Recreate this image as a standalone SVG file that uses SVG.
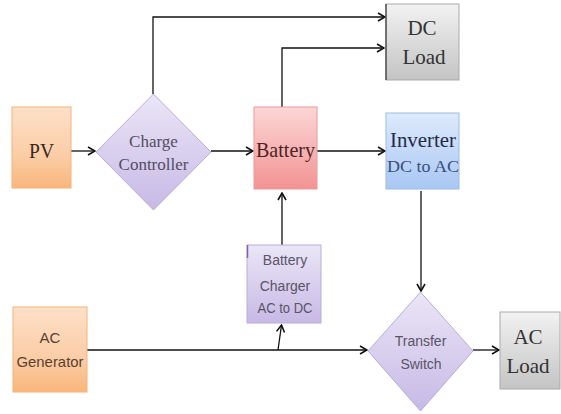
<svg xmlns="http://www.w3.org/2000/svg" width="561" height="414" viewBox="0 0 561 414">
<defs>
<linearGradient id="gOrange" x1="0" y1="0" x2="0" y2="1"><stop offset="0" stop-color="#fde0c8"/><stop offset="0.6" stop-color="#fbcda6"/><stop offset="1" stop-color="#f9b67c"/></linearGradient>
<linearGradient id="gLav" x1="0" y1="0" x2="0" y2="1"><stop offset="0" stop-color="#ebe6f6"/><stop offset="1" stop-color="#c7b9e6"/></linearGradient>
<linearGradient id="gPink" x1="0" y1="0" x2="0" y2="1"><stop offset="0" stop-color="#fcd6d6"/><stop offset="1" stop-color="#f39393"/></linearGradient>
<linearGradient id="gBlue" x1="0" y1="0" x2="0" y2="1"><stop offset="0" stop-color="#dfeafc"/><stop offset="1" stop-color="#a8c7f4"/></linearGradient>
<linearGradient id="gGray" x1="0" y1="0" x2="0" y2="1"><stop offset="0" stop-color="#f2f2f2"/><stop offset="1" stop-color="#c4c4c4"/></linearGradient>
<marker id="arr" viewBox="0 0 10 10" refX="9" refY="5" markerWidth="10" markerHeight="10" markerUnits="userSpaceOnUse" orient="auto">
<path d="M2,1 L9,5 L2,9" fill="none" stroke="#111" stroke-width="1.6"/>
</marker>
</defs>
<style>
.serif{font-family:"Liberation Serif","Times New Roman",serif;text-anchor:middle}
.sans{font-family:"Liberation Sans",Arial,sans-serif;text-anchor:middle}
.ln{fill:none;stroke:#111;stroke-width:1.3}
</style>
<rect width="561" height="414" fill="#ffffff"/>
<g id="connectors">
<path class="ln" d="M71,151 L95,151" marker-end="url(#arr)"/>
<path class="ln" d="M153,94 L153,17 L385,17" marker-end="url(#arr)"/>
<path class="ln" d="M211,151 L253,151" marker-end="url(#arr)"/>
<path class="ln" d="M282,107 L282,48 L384,48" marker-end="url(#arr)"/>
<path class="ln" d="M317,151 L385,151" marker-end="url(#arr)"/>
<path class="ln" d="M421,191 L421,291" marker-end="url(#arr)"/>
<path class="ln" d="M87,350 L367,350" marker-end="url(#arr)"/>
<path class="ln" d="M278,350 L281.5,325" marker-end="url(#arr)"/>
<path class="ln" d="M282,245 L282,193" marker-end="url(#arr)"/>
<path class="ln" d="M473,350 L499,350" marker-end="url(#arr)"/>
</g>
<g id="pv">
<rect x="12" y="107" width="59" height="81" fill="url(#gOrange)" stroke="#f6b27c" stroke-width="1"/>
<text class="serif" x="41.5" y="158" font-size="22" fill="#3a281c" textLength="25" lengthAdjust="spacingAndGlyphs">PV</text>
</g>
<g id="charge-controller">
<polygon points="153.5,94 211,152 153.5,210 96,152" fill="url(#gLav)" stroke="#b9acd9" stroke-width="1"/>
<text class="serif" x="153.5" y="147" font-size="17" fill="#554c63">Charge</text>
<text class="serif" x="153.5" y="170" font-size="17" fill="#554c63">Controller</text>
</g>
<g id="battery">
<rect x="254" y="107" width="63" height="82" fill="url(#gPink)" stroke="#e99a9a" stroke-width="1"/>
<text class="serif" x="285.5" y="157" font-size="22" fill="#4a2424" textLength="59" lengthAdjust="spacingAndGlyphs">Battery</text>
</g>
<g id="dc-load">
<rect x="386" y="4" width="73" height="76" fill="url(#gGray)" stroke="#aaaaaa" stroke-width="1"/>
<line x1="386" y1="4" x2="386" y2="80" stroke="#333" stroke-width="1.2"/>
<text class="serif" x="422" y="35" font-size="21" fill="#333333">DC</text>
<text class="serif" x="424" y="64" font-size="21" fill="#333333">Load</text>
</g>
<g id="inverter">
<rect x="386" y="113" width="73" height="76" fill="url(#gBlue)" stroke="#9bbbe8" stroke-width="1"/>
<text class="serif" x="423" y="147" font-size="21" fill="#1f2b48" textLength="66" lengthAdjust="spacingAndGlyphs">Inverter</text>
<text class="serif" x="423" y="172" font-size="17" fill="#3a4f7a" textLength="72" lengthAdjust="spacingAndGlyphs">DC to AC</text>
</g>
<g id="battery-charger">
<rect x="247" y="245" width="74" height="78" fill="url(#gLav)" stroke="#b9acd9" stroke-width="1"/>
<line x1="247.5" y1="245" x2="247.5" y2="258" stroke="#7a63b3" stroke-width="1.5"/>
<text class="sans" x="285" y="265" font-size="14" fill="#5a5466">Battery</text>
<text class="sans" x="285" y="291" font-size="14" fill="#5a5466">Charger</text>
<text class="sans" x="285" y="313" font-size="14" fill="#5a5466" textLength="55" lengthAdjust="spacingAndGlyphs">AC to DC</text>
</g>
<g id="ac-generator">
<rect x="13" y="307" width="74" height="85" fill="url(#gOrange)" stroke="#f6b27c" stroke-width="1"/>
<text class="sans" x="50" y="343" font-size="15" fill="#5a3f30">AC</text>
<text class="sans" x="50" y="367" font-size="15" fill="#5a3f30" textLength="67" lengthAdjust="spacingAndGlyphs">Generator</text>
</g>
<g id="transfer-switch">
<polygon points="420.5,292 473,351 420.5,411 368,351" fill="url(#gLav)" stroke="#b9acd9" stroke-width="1"/>
<text class="sans" x="420.5" y="346" font-size="14" fill="#5a5466">Transfer</text>
<text class="sans" x="421" y="369" font-size="14" fill="#5a5466">Switch</text>
</g>
<g id="ac-load">
<rect x="500" y="312" width="60" height="77" fill="url(#gGray)" stroke="#aaaaaa" stroke-width="1"/>
<text class="serif" x="528" y="344" font-size="21" fill="#333333">AC</text>
<text class="serif" x="528" y="373" font-size="21" fill="#333333">Load</text>
</g>
</svg>
